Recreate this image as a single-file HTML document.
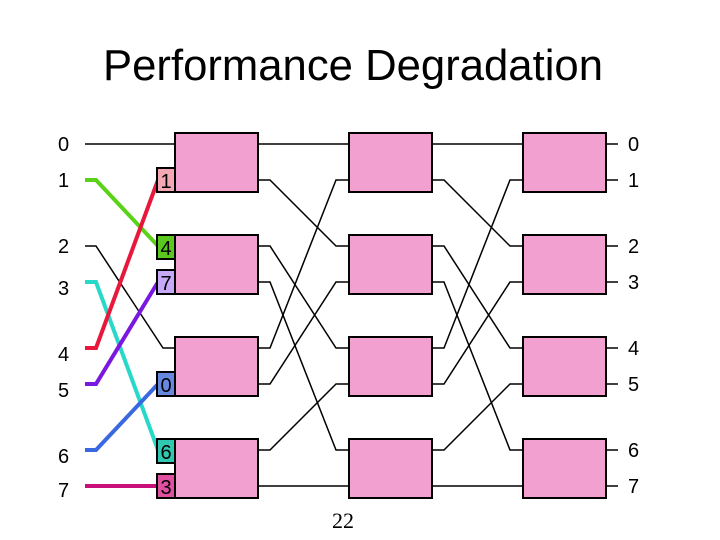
<!DOCTYPE html>
<html><head><meta charset="utf-8"><style>
html,body{margin:0;padding:0;background:#fff;}
svg{display:block;}
</style></head><body>
<svg width="720" height="540" viewBox="0 0 720 540" xmlns="http://www.w3.org/2000/svg">
<text x="353" y="80" font-family="Liberation Sans, sans-serif" font-size="44" text-anchor="middle" textLength="500" lengthAdjust="spacingAndGlyphs">Performance Degradation</text>
<g font-family="Liberation Sans, sans-serif" font-size="20" fill="#000">
<text x="58" y="151">0</text><text x="58" y="187">1</text><text x="58" y="253">2</text><text x="58" y="295">3</text>
<text x="58" y="361">4</text><text x="58" y="397">5</text><text x="58" y="463">6</text><text x="58" y="497">7</text>
<text x="628" y="151">0</text><text x="628" y="187">1</text><text x="628" y="253">2</text><text x="628" y="289">3</text>
<text x="628" y="355">4</text><text x="628" y="391">5</text><text x="628" y="457">6</text><text x="628" y="493">7</text>
</g>
<g fill="none" stroke="#000" stroke-width="1.5">
<path d="M85 144H175"/>
<path d="M85 246H96L163 348H175"/>
<path d="M258 144H349"/>
<path d="M258 180H270L336 246H349"/>
<path d="M258 246H270L336 348H349"/>
<path d="M258 282H270L336 450H349"/>
<path d="M258 348H270L336 180H349"/>
<path d="M258 384H270L336 282H349"/>
<path d="M258 450H270L336 384H349"/>
<path d="M258 486H349"/>
<path d="M432 144H523"/>
<path d="M432 180H444L510 246H523"/>
<path d="M432 246H444L510 348H523"/>
<path d="M432 282H444L510 450H523"/>
<path d="M432 348H444L510 180H523"/>
<path d="M432 384H444L510 282H523"/>
<path d="M432 450H444L510 384H523"/>
<path d="M432 486H523"/>
<path d="M606 144H618M606 180H618M606 246H618M606 282H618M606 348H618M606 384H618M606 450H618M606 486H618"/>
</g>
<g fill="none" stroke-width="4">
<path d="M85 180H96L158 246" stroke="#5ad21a"/>
<path d="M85 282H96L158 450" stroke="#28d8c8"/>
<path d="M85 348H96L158 180" stroke="#e8183c"/>
<path d="M85 384H96L158 282" stroke="#7a18e0"/>
<path d="M85 450H96L158 384" stroke="#3a68e0"/>
<path d="M85 486H158" stroke="#c8107a"/>
</g>
<g fill="#f2a0d0" stroke="#000" stroke-width="2">
<rect x="175" y="133" width="83" height="59"/><rect x="175" y="235" width="83" height="59"/>
<rect x="175" y="337" width="83" height="59"/><rect x="175" y="439" width="83" height="59"/>
<rect x="349" y="133" width="83" height="59"/><rect x="349" y="235" width="83" height="59"/>
<rect x="349" y="337" width="83" height="59"/><rect x="349" y="439" width="83" height="59"/>
<rect x="523" y="133" width="83" height="59"/><rect x="523" y="235" width="83" height="59"/>
<rect x="523" y="337" width="83" height="59"/><rect x="523" y="439" width="83" height="59"/>
</g>
<g stroke="#000" stroke-width="2">
<rect x="157" y="168" width="18" height="24" fill="#f4a8b4"/>
<rect x="157" y="235" width="18" height="24" fill="#5ac81e"/>
<rect x="157" y="270" width="18" height="24" fill="#c8a8f8"/>
<rect x="157" y="372" width="18" height="24" fill="#6688e0"/>
<rect x="157" y="439" width="18" height="24" fill="#30c8b0"/>
<rect x="157" y="474" width="18" height="24" fill="#e050a0"/>
</g>
<g font-family="Liberation Sans, sans-serif" font-size="20" fill="#000" text-anchor="middle">
<text x="166" y="188">1</text><text x="166" y="255">4</text><text x="166" y="290">7</text>
<text x="166" y="392">0</text><text x="166" y="459">6</text><text x="166" y="494">3</text>
</g>
<text x="343" y="528" font-family="Liberation Serif, serif" font-size="22" text-anchor="middle">22</text>
</svg>
</body></html>
